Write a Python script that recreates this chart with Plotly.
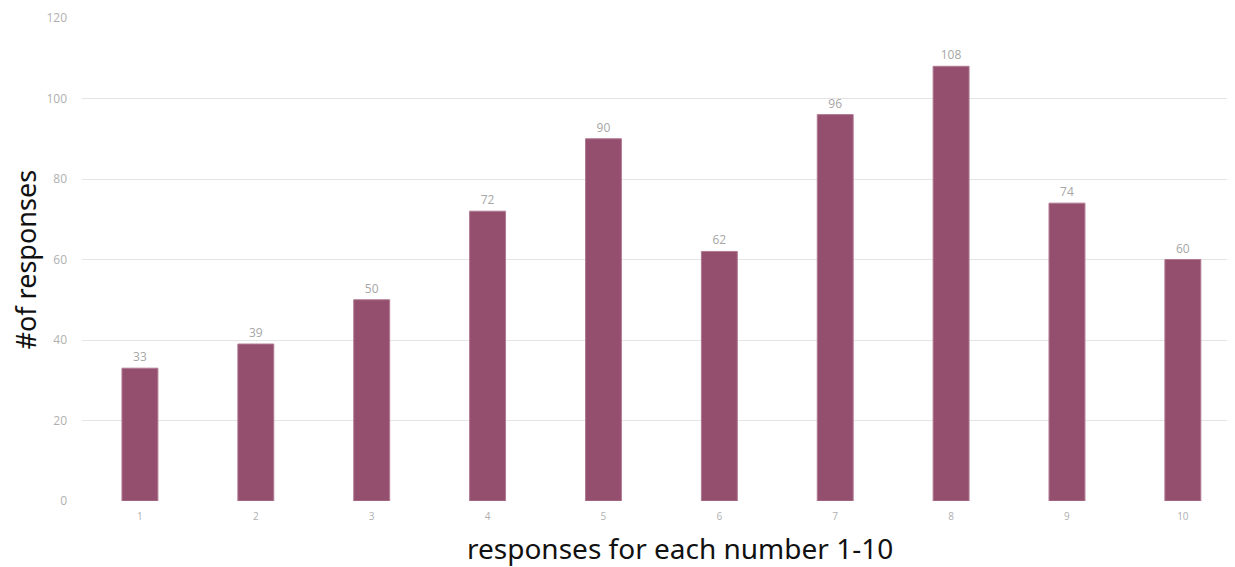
import plotly.graph_objects as go

# responses per score
scores = [1, 2, 3, 4, 5, 6, 7, 8, 9, 10]
score_labels = ["1", "2", "3", "4", "5", "6", "7", "8", "9", "10"]
responses = [33, 39, 50, 72, 90, 62, 96, 108, 74, 60]
y_ticks = [0, 20, 40, 60, 80, 100, 120]

fig = go.Figure()
fig.add_trace(go.Bar(
    x=scores,
    y=responses,
    width=0.31,
    marker=dict(color="#944E6E", line=dict(color="#B07A92", width=1)),
    text=[str(v) for v in responses],
    textposition="outside",
    textfont=dict(family="Open Sans, sans-serif", size=12, color="#A6A6A6"),
    cliponaxis=False,
))

# page body adds an 8px margin, so the figure is a bit smaller than the window
fig.update_layout(
    width=1227,
    height=559,
    margin=dict(l=74, r=0, t=10, b=66),
    paper_bgcolor="white",
    plot_bgcolor="white",
    showlegend=False,
    font=dict(family="Noto Sans, sans-serif"),
    xaxis=dict(
        range=[0.5, 10.45],
        tickmode="array",
        tickvals=scores,
        ticktext=score_labels,
        tickfont=dict(family="Open Sans, sans-serif", size=10, color="#B0B0B0"),
        showgrid=False,
        showline=False,
        zeroline=False,
        ticks="",
        ticklabelstandoff=8,
    ),
    yaxis=dict(
        range=[0, 120],
        tickmode="array",
        tickvals=y_ticks,
        tickfont=dict(family="Open Sans, sans-serif", size=12, color="#B0B0B0"),
        showgrid=True,
        gridcolor="#E4E4E4",
        gridwidth=1,
        zeroline=False,
        showline=False,
        ticks="",
        ticklabelstandoff=14,
    ),
)

# axis titles placed as annotations to match the original positions
fig.add_annotation(
    text="responses for each number 1-10",
    xref="paper", yref="paper", x=0.519, y=0,
    xanchor="center", yanchor="middle", yshift=-47,
    showarrow=False, font=dict(size=28, color="#111111"),
)
fig.add_annotation(
    text="#of responses",
    xref="paper", yref="paper", x=0, y=0.5,
    xanchor="center", yanchor="middle", xshift=-57, textangle=-90,
    showarrow=False, font=dict(size=27, color="#111111"),
)

fig.write_html("out.html")
